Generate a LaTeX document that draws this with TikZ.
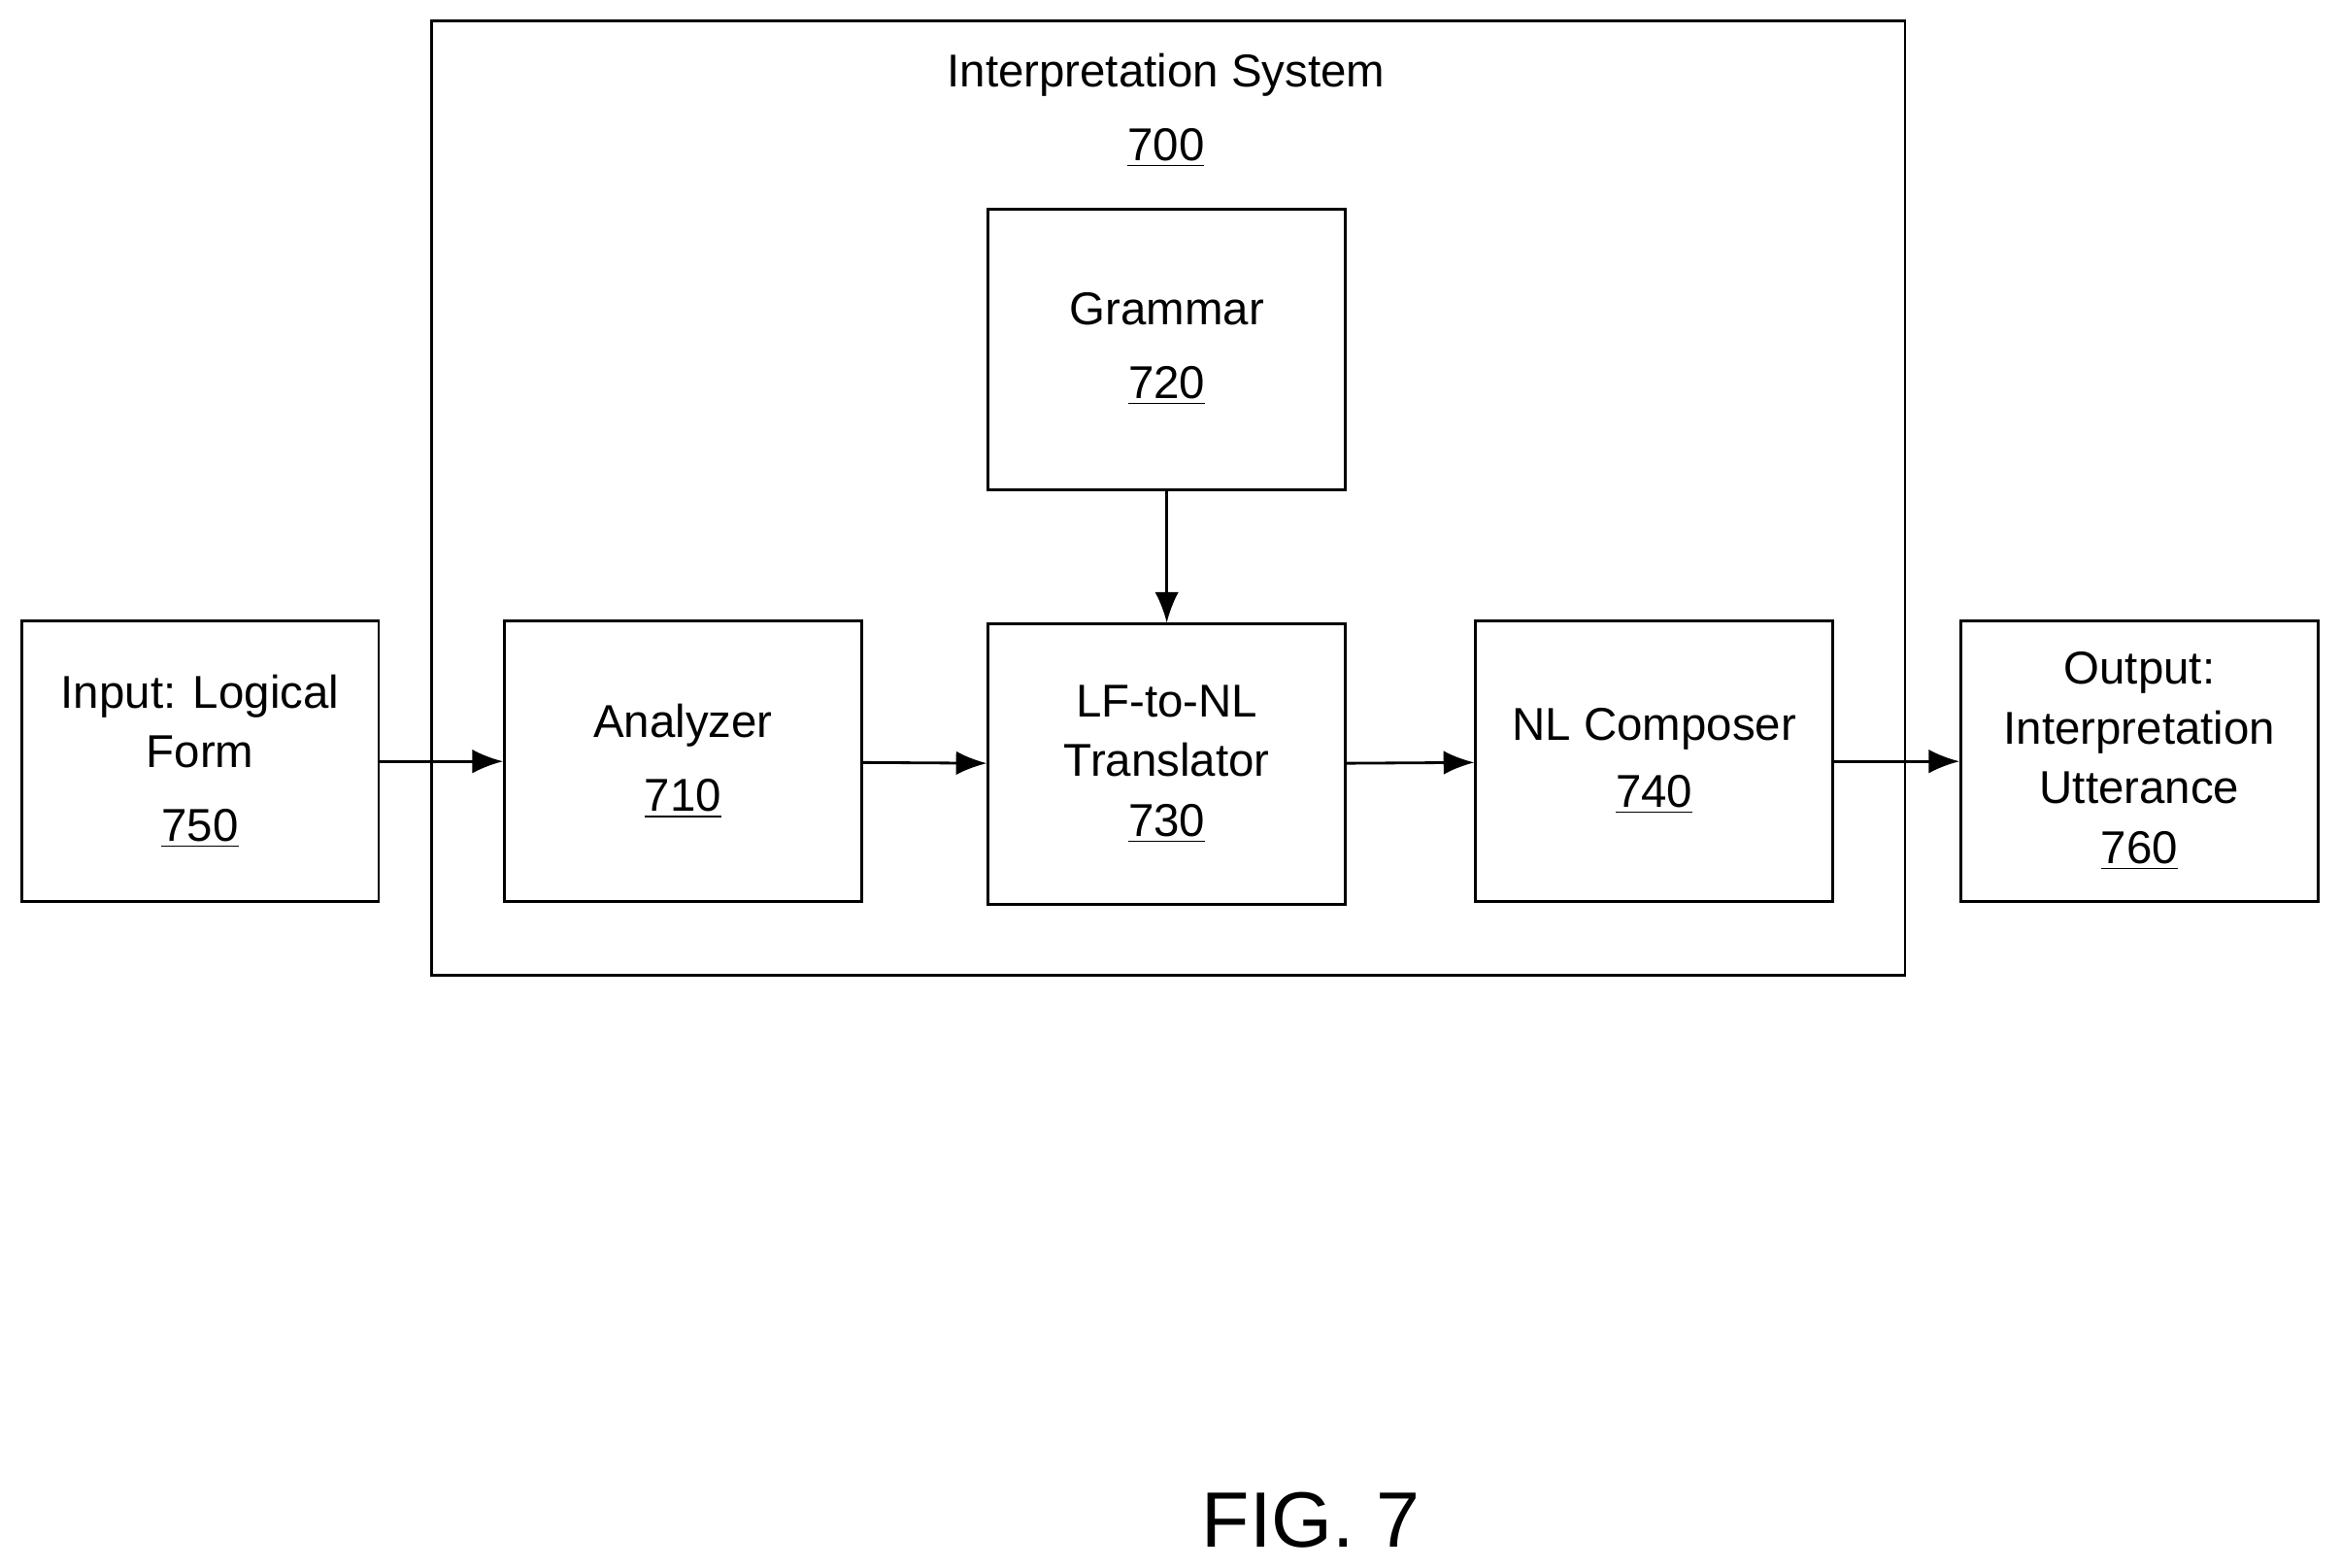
\documentclass[tikz,border=0pt]{standalone}
\usepackage{fontspec}
\setmainfont{Liberation Sans}
\usetikzlibrary{arrows.meta}
\newcommand{\refnum}[1]{\underline{#1}}
\begin{document}
\begin{tikzpicture}[
        x=0.015376cm, y=-0.015376cm,
        block/.style={draw, thick, minimum width=3.68cm, minimum height=2.89cm,
        align=center, inner sep=0pt, font=\fontsize{13.5}{17.5}\selectfont},
        flow/.style={thick, -{Latex[length=9pt, width=7pt]}},
        every node/.style={color=black}
        ]
        \useasboundingbox (0,0) rectangle (1568,1050);
        % System frame
        \draw[thick] (289,14) rectangle (1276,653);
        \node (title) at (781,74) [align=center, font=\fontsize{13.5}{17.5}\selectfont]
            {Interpretation System\\[4pt]\refnum{700}};
        % Blocks
        \node[block] (grammar) at (781.5,234) {Grammar\\[4pt]\refnum{720}};
        \node[block] (input) at (134,510) {Input: Logical\\Form\\[4pt]\refnum{750}};
        \node[block] (analyzer) at (457.5,510) {Analyzer\\[4pt]\refnum{710}};
        \node[block] (translator) at (781.5,512) {LF-to-NL\\Translator\\\refnum{730}};
        \node[block] (composer) at (1108,510) {NL Composer\\[2pt]\refnum{740}};
        \node[block] (output) at (1433,510) {Output:\\Interpretation\\Utterance\\\refnum{760}};
        % Connectors
        \draw[flow] (input) -- (analyzer);
        \draw[flow] (analyzer) -- (translator);
        \draw[flow] (translator) -- (composer);
        \draw[flow] (composer) -- (output);
        \draw[flow] (grammar) -- (translator);
        % Caption
        \node (fig) at (878,1018) [font=\fontsize{23}{28}\selectfont] {FIG. 7};
    \end{tikzpicture}
\end{document}
